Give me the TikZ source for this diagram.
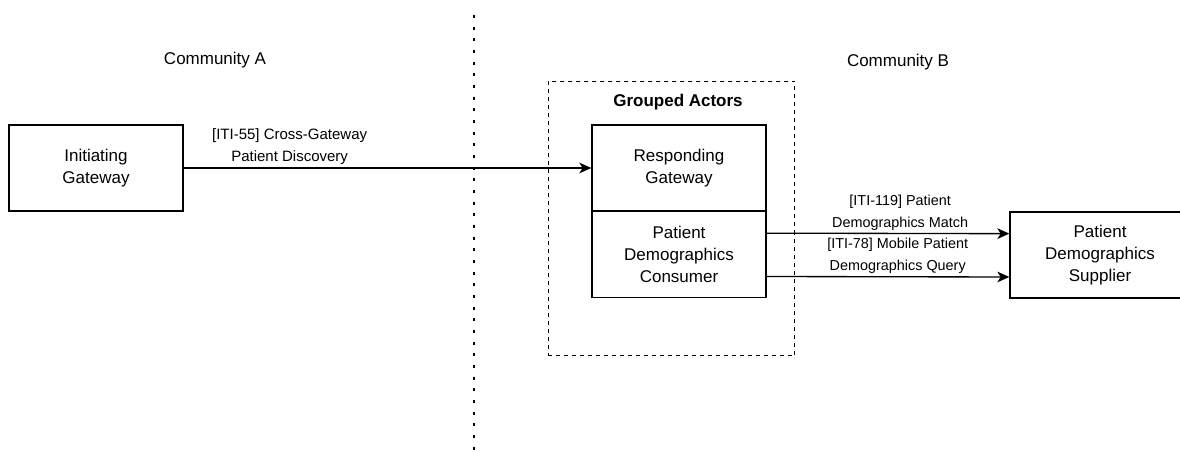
\documentclass[tikz,border=0pt]{standalone}
\usepackage{fontspec}
\setmainfont{Liberation Sans}
\usetikzlibrary{arrows.meta,positioning}

\tikzset{
  actor/.style={draw,line width=1pt,minimum width=130.5pt,minimum height=64.5pt,
    align=center,inner sep=0pt,font=\fontsize{12.75}{16.5}\selectfont},
  msg/.style={line width=1pt,-{Stealth[length=9pt,width=8pt,inset=2.5pt]}},
  msglabel/.style={align=center,inner sep=2pt,font=\fontsize{10.8}{16.5}\selectfont},
  community/.style={font=\fontsize{12.75}{15}\selectfont}
}

\begin{document}
\begin{tikzpicture}[x=0.75pt,y=-0.75pt]
\useasboundingbox (0,0) rectangle (1180,452);

% border between the two communities
\draw[line width=2.2pt,dash pattern=on 2.2pt off 6.55pt] (474,15) -- (474,452);
\node[community] (comA) at (215,60) {Community A};
\node[community] (comB) at (898,62) {Community B};

% grouped actors
\node[draw,line width=0.8pt,dash pattern=on 3pt off 3pt,minimum width=185pt,
  minimum height=206pt,inner sep=0pt] (grp) at (671.5,218.5) {};
\node[font=\fontsize{12.75}{15}\selectfont\bfseries] (grptitle) at (678,102) {Grouped Actors};

\node[actor] (initgw) at (96,168) {Initiating\\Gateway};
\node[actor] (respgw) at (679,168) {Responding\\Gateway};
\node[actor] (pdcons) at (679,254.5) {Patient\\Demographics\\Consumer};
\node[actor,minimum width=135pt] (pdsupp) at (1100,255) {Patient\\Demographics\\Supplier};

\draw[msg] (initgw) -- node[msglabel,pos=0.26,above,font=\fontsize{11.25}{16.5}\selectfont] (l55)
  {[ITI-55] Cross-Gateway\\Patient Discovery} (respgw);
\draw[msg] ([yshift=16pt]pdcons.east) -- node[msglabel,pos=0.55,above] (l119)
  {[ITI-119] Patient\\Demographics Match} ([yshift=16pt]pdsupp.west);
\draw[msg] ([yshift=-16.5pt]pdcons.east) -- node[msglabel,pos=0.54,above] (l78)
  {[ITI-78] Mobile Patient\\Demographics Query} ([yshift=-16.5pt]pdsupp.west);
\end{tikzpicture}
\end{document}
